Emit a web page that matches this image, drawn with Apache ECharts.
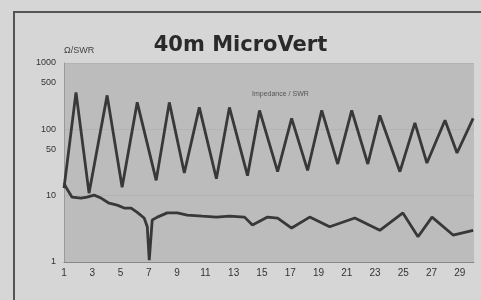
<!DOCTYPE html>
<html>
<head>
<meta charset="utf-8">
<script src="https://cdn.jsdelivr.net/npm/echarts@6/dist/echarts.min.js"></script>
<style>
  html, body { margin: 0; padding: 0; background: #d6d6d6; }
  #main { width: 481px; height: 300px; }
</style>
</head>
<body>
<div id="main"></div>
<script>
// x tick labels and y tick labels
const xTicks = [1, 3, 5, 7, 9, 11, 13, 15, 17, 19, 21, 23, 25, 27, 29];
const yTicks = [1, 10, 50, 100, 500, 1000];

// upper curve
const upperX = [1, 1.85, 2.77, 4.05, 5.11, 6.18, 7.52, 8.45, 9.51, 10.57, 11.78, 12.7, 13.98, 14.83,
    16.11, 17.1, 18.23, 19.23, 20.36, 21.35, 22.49, 23.34, 24.76, 25.82, 26.67, 27.95, 28.8, 29.94];
const upperVal = [13, 360, 10.9, 325, 13.4, 255, 17, 255, 22, 214, 18, 214, 20, 193,
    23, 146, 24, 193, 30, 193, 30, 162, 23, 125, 31, 137, 44, 146];

// lower curve
const lowerX = [1, 1.14, 1.57, 2.2, 2.63, 3.13, 3.62, 4.19, 4.76, 5.26, 5.75, 6.18, 6.67, 6.89,
    7.03, 7.24, 7.6, 8.3, 9.01, 9.72, 10.79, 11.78, 12.7, 13.77, 14.33, 15.4, 16.11, 17.1,
    18.38, 19.79, 21.57, 23.34, 24.97, 26.04, 27.03, 28.52, 29.94];
const lowerVal = [15.4, 13.4, 9.5, 9.2, 9.5, 10.2, 9.2, 7.7, 7.2, 6.5, 6.5, 5.6, 4.6, 3.4,
    1.07, 4.3, 4.75, 5.5, 5.5, 5.1, 4.9, 4.75, 4.9, 4.75, 3.6, 4.75, 4.6, 3.25,
    4.75, 3.4, 4.6, 3.0, 5.5, 2.4, 4.75, 2.55, 3.0];

const zip = (xs, ys) => xs.map((x, i) => [x, ys[i]]);

const chart = echarts.init(document.getElementById('main'));

const option = {
    backgroundColor: '#d6d6d6',
    animation: false,
    title: [{
        text: '40m MicroVert',
        left: 'center',
        top: 30,
        textStyle: { fontFamily: 'DejaVu Sans', fontWeight: 'bold', fontSize: 21, color: '#2a2a2a' }
    }, {
        text: 'Impedance / SWR',
        left: 247,
        top: 86,
        textStyle: { fontFamily: 'Liberation Sans', fontWeight: 'normal', fontSize: 7, color: '#555' }
    }],
    graphic: [{
        type: 'rect',
        shape: { x: 14, y: 12, width: 480, height: 300 },
        style: { fill: 'none', stroke: '#555', lineWidth: 2 },
        silent: true
    }],
    grid: {
        left: 64, right: 7, top: 63, bottom: 38,
        show: true,
        backgroundColor: '#bcbcbc',
        borderWidth: 0
    },
    xAxis: {
        type: 'value',
        min: 1,
        max: 30,
        axisLine: { show: true, lineStyle: { color: '#888', width: 1 } },
        axisTick: { show: false },
        splitLine: { show: false },
        axisLabel: {
            customValues: xTicks,
            color: '#333',
            fontSize: 10,
            fontFamily: 'Liberation Sans',
            margin: 6
        }
    },
    yAxis: {
        type: 'log',
        logBase: 10,
        min: 1,
        max: 1000,
        name: 'Ω/SWR',
        nameLocation: 'end',
        nameGap: 8,
        nameTextStyle: { color: '#444', fontSize: 9, align: 'left', fontFamily: 'Liberation Sans' },
        axisLine: { show: true, lineStyle: { color: '#999', width: 1 } },
        axisTick: { show: false },
        splitLine: { show: true, lineStyle: { color: '#b3b3b3', width: 1 } },
        axisLabel: {
            customValues: yTicks,
            formatter: v => String(Math.round(v)),
            color: '#333',
            fontSize: 9,
            fontFamily: 'Liberation Sans',
            margin: 8
        }
    },
    series: [{
        name: 'upper',
        type: 'line',
        symbol: 'none',
        data: zip(upperX, upperVal),
        lineStyle: { color: '#383838', width: 2.8 }
    }, {
        name: 'lower',
        type: 'line',
        symbol: 'none',
        data: zip(lowerX, lowerVal),
        lineStyle: { color: '#383838', width: 2.8 }
    }]
};

chart.setOption(option);
</script>
</body>
</html>
